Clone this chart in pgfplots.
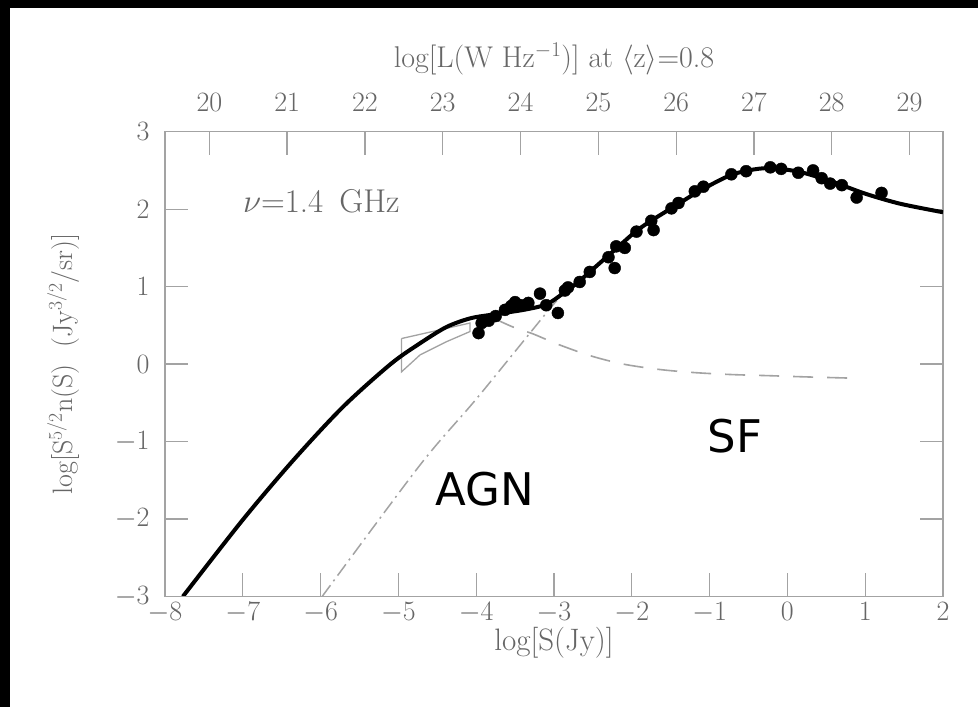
\RequirePackage{fix-cm}
\documentclass[border=0pt]{standalone}
\usepackage{pgfplots}
\pgfplotsset{compat=1.18}
\usepackage{fontspec}
\newfontfamily\dejavu{DejaVu Sans}
\definecolor{axgray}{gray}{0.64}
\definecolor{txtgray}{gray}{0.40}
\definecolor{lngray}{gray}{0.64}
\begin{document}
\begin{tikzpicture}
\fill[black] (0,0) rectangle (978pt,707pt);
\fill[white] (10pt,0) rectangle (978pt,699pt);
\begin{axis}[
  at={(165pt,110.5pt)}, anchor=south west,
  scale only axis, width=778pt, height=464.8pt,
  xmin=-8, xmax=2, ymin=-3, ymax=3,
  xtick={-8,...,2}, ytick={-3,...,3},
  xtick pos=bottom, ytick pos=both,
  tick align=inside,
  major tick length=23pt,
  axis line style={axgray, line width=1.3pt},
  every tick/.style={axgray, line width=1.3pt},
  tick label style={font=\fontsize{28}{32}\selectfont, text=txtgray},
  yticklabel style={xshift=-12pt},
  xticklabel style={yshift=-2pt},
  xlabel={log$\bigl[$S(Jy)$\bigr]$},
  ylabel={log$\bigl[$S$^{5/2}$n(S)\ \ (Jy$^{3/2}$/sr)$\bigr]$},
  every axis x label/.style={at={(axis description cs:0.5,0)}, anchor=center, yshift=-46pt, font=\fontsize{31}{34}\selectfont, text=txtgray},
  every axis y label/.style={at={(axis description cs:-0.131,0.5)}, anchor=center, rotate=90, font=\fontsize{28}{32}\selectfont, text=txtgray},
  clip=true,
]
% AGN (dash-dot)
\addplot[lngray, line width=1.5pt, dash pattern=on 14pt off 5pt on 2pt off 5pt, smooth] coordinates {
(-5.98,-3.0) (-4.72,-1.30) (-3.99,-0.44) (-3.05,0.72) (-2.95,0.82)
};
% SF (dashed)
\addplot[lngray, line width=1.6pt, dash pattern=on 20pt off 14pt, smooth] coordinates {
(-3.75,0.58) (-3.53,0.48) (-3.27,0.39) (-2.96,0.26) (-2.54,0.11) (-2.11,0.0) (-1.64,-0.07) (-1.19,-0.11) (-0.72,-0.135) (-0.22,-0.15) (0.23,-0.165) (0.78,-0.18)
};
% box
\addplot[lngray, line width=1.3pt] coordinates {
(-4.96,0.33) (-4.08,0.53) (-4.08,0.42) (-4.38,0.29) (-4.72,0.12) (-4.96,-0.10) (-4.96,0.33)
};
% total
\addplot[black, line width=4pt, smooth] coordinates {
(-7.77,-3.0) (-7.0,-2.01) (-6.35,-1.24) (-5.71,-0.55) (-5.10,0.0) (-4.72,0.27) (-4.38,0.48) (-4.08,0.59) (-3.82,0.635) (-3.39,0.70) (-3.1,0.77) (-2.9,0.90) (-2.7,1.05) (-2.45,1.27) (-2.19,1.50) (-1.94,1.72) (-1.72,1.87) (-1.43,2.05) (-1.12,2.24) (-0.70,2.45) (-0.27,2.53) (0.16,2.48) (0.59,2.35) (1.0,2.20) (1.45,2.07) (2.0,1.96)
};
% data
\addplot[only marks, mark=*, mark size=6pt, black] coordinates {
(-3.97,0.40) (-3.93,0.53) (-3.84,0.56) (-3.75,0.62) (-3.63,0.70) (-3.55,0.75) (-3.50,0.80) (-3.42,0.76) (-3.33,0.79) (-3.18,0.91) (-3.10,0.76) (-2.95,0.66) (-2.86,0.95) (-2.82,0.99) (-2.67,1.06) (-2.54,1.19) (-2.30,1.38) (-2.22,1.24) (-2.20,1.52) (-2.09,1.50) (-1.94,1.71) (-1.75,1.85) (-1.72,1.73) (-1.49,2.01) (-1.40,2.08) (-1.19,2.23) (-1.08,2.29) (-0.72,2.45) (-0.53,2.49) (-0.22,2.54) (-0.08,2.52) (0.14,2.47) (0.33,2.50) (0.44,2.40) (0.55,2.33) (0.70,2.31) (0.89,2.15) (1.21,2.21)
};
\node[font=\dejavu\fontsize{45}{48}\selectfont, text=black] at (axis cs:-0.674,-0.93) {SF};
\node[font=\dejavu\fontsize{45}{48}\selectfont, text=black] at (axis cs:-3.89,-1.61) {AGN};
\node[anchor=base west, inner sep=0pt, font=\fontsize{33}{36}\selectfont, text=txtgray] at (axis cs:-7.0,1.96) {$\nu$=1.4\hspace{16pt}GHz};
\end{axis}
\begin{axis}[
  at={(165pt,110.5pt)}, anchor=south west,
  scale only axis, width=778pt, height=464.8pt,
  xmin=19.43, xmax=29.43, ymin=-3, ymax=3,
  hide y axis,
  xtick={20,...,29},
  xtick pos=upper, xticklabel pos=upper,
  tick align=inside,
  major tick length=23pt,
  axis line style={axgray, line width=1.3pt},
  every tick/.style={axgray, line width=1.3pt},
  tick label style={font=\fontsize{28}{32}\selectfont, text=txtgray},
  xticklabel style={yshift=17pt},
  xlabel={log$\bigl[$L(W Hz$^{-1}$)$\bigr]$ at $\langle$z$\rangle$=0.8},
  every axis x label/.style={at={(axis description cs:0.5,1)}, anchor=center, yshift=73pt, font=\fontsize{30}{34}\selectfont, text=txtgray},
]
\end{axis}
\pgfresetboundingbox
\path[use as bounding box] (0,0) rectangle (978pt,707pt);
\end{tikzpicture}
\end{document}
